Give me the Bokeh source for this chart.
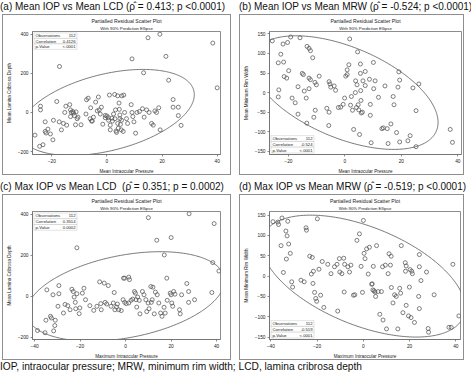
import numpy as np
from bokeh.plotting import figure
from bokeh.layouts import column, row
from bokeh.models import Div, Title, Label, BoxAnnotation, FixedTicker, Range1d, Spacer
from bokeh.embed import file_html
from bokeh.resources import INLINE

FONT = "Liberation Sans"

# ---------------- data ----------------
HEADINGS = ["(a) Mean IOP vs Mean LCD (\u03c1\u0302 = 0.413; p <0.0001)",
            "(b) Mean IOP vs Mean MRW (\u03c1\u0302 = -0.524; p <0.0001)",
            "(c) Max IOP vs Mean LCD&nbsp; (\u03c1\u0302 = 0.351; p = 0.0002)",
            "(d) Max IOP vs Mean MRW (\u03c1\u0302 = -0.519; p <0.0001)"]
CAPTION = "IOP, intraocular pressure; MRW, minimum rim width; LCD, lamina cribrosa depth"
PLOT_TITLE = "Partialled Residual Scatter Plot"
PLOT_SUBTITLE = "With 90% Prediction Ellipse"
X_LABELS = ["Mean Intraocular Pressure", "Mean Intraocular Pressure",
            "Maximum Intraocular Pressure", "Maximum Intraocular Pressure"]
Y_LABELS = ["Mean Lamina Cribrosa Depth", "Mean Minimum Rim Width",
            "Mean Lamina Cribrosa Depth", "Mean Minimum Rim Width"]
STAT_NAMES = ["Observations", "Correlation", "p-Value"]
STATS_A = ["112", "0.4126", "<.0001"]
STATS_B = ["112", "-0.524", "<.0001"]
STATS_C = ["112", "0.3514", "0.0002"]
STATS_D = ["112", "-0.519", "<.0001"]

X_TICKS_A = [-20, 0, 20, 40]
X_TICKS_C = [-40, -20, 0, 20, 40]
Y_TICKS_LCD = [-200, 0, 200, 400]
Y_TICKS_MRW = [-150, -100, -50, 0, 50, 100, 150]

X_RANGE_A = (-27, 41.2)
Y_RANGE_A = (-215, 414)
X_RANGE_B = (-26.7, 41.3)
Y_RANGE_B = (-158, 156)
X_RANGE_C = (-40.9, 41.7)
Y_RANGE_C = (-210, 414)
X_RANGE_D = (-40.6, 42)
Y_RANGE_D = (-156, 159)

# ellipse: (x half-extent, y half-extent, correlation)
ELL_A = (31.7, 220, 0.4126)
ELL_B = (33.0, 145, -0.524)
ELL_C = (43.5, 218, 0.3514)
ELL_D = (44.0, 150, -0.519)

A_X = [14.9, 19.2, 38.4, 9.1, 21.4, -17.2, 13.3, 22.4, 40.0, 24.0,
       24.0, 25.9, 25.9, 26.9, -24.1, -24.1, -18.2, -26.1, -24.4, -23.2,
       -22.4, -22.4, -22.1, -21.4, -20.5, -19.6, -19.4, -17.3, -16.5, -15.8,
       -15.3, -14.9, -14.6, -13.5, -13.2, -13.2, -12.9, -12.4, -12.1, -11.8,
       -11.4, -11.2, -10.8, -10.5, -9.4, -7.4, -6.8, -6.1, -5.6, -5.3,
       -4.9, -4.1, -3.1, -2.8, -2.4, -2.0, -1.5, -0.6, 0.0, 0.5,
       0.9, 1.2, 1.2, 1.8, 2.0, 2.4, 2.8, 3.1, 3.3, 3.5,
       3.9, 3.9, 4.4, 4.5, 4.7, 4.7, 4.9, 5.2, 5.3, 5.4,
       5.9, 6.1, 6.4, 7.1, 7.5, 8.8, 9.1, 9.4, 9.8, 10.4,
       10.9, 11.8, 12.9, 13.5, 14.4, 15.3, 16.2, 16.8, 17.4, 18.0,
       18.8, 19.3, -7.6, -0.6, 0.6, 2.9, 4.1, -3.5, -5.9]
A_Y = [382, 400, 355, 274, 287, 235, 203, 165, 126, 66,
       27, 27, -16, -66, 32, 13, 56, -116, -173, -165,
       -48, -97, -105, -85, -110, -140, -40, -48, -89, -56,
       0, 32, -65, 40, 13, -21, 0, 5, -3, -16,
       -63, 3, -32, -24, -63, 65, 73, -32, -44, -44,
       -24, 53, 79, 13, -8, 27, -60, -15, -18, -27,
       89, -65, -89, -29, -44, -8, 92, 13, -95, -102,
       85, -56, 48, 16, -13, -32, -61, -89, -40, 85,
       -97, 89, 0, -32, -56, 40, 0, -21, -48, -106,
       0, 5, 19, -24, 13, 0, -56, -65, 8, 0,
       24, -89, -8, -27, -40, -32, -81, 8, 24]

B_X = [-25.7, -22.7, -21.9, -20.3, -19.2, -15.9, -23.6, -21.7, -19.9, -21.5,
       -20.6, -23.4, -23.6, -18.7, -17.6, -16.6, -16.6, -15.1, -14.7, -14.4,
       -13.7, -13.5, -13.4, -12.7, -12.2, -12.7, -12.2, -12.7, -11.4, -10.6,
       -10.1, -10.5, -11.0, -9.1, -6.4, -5.6, -5.3, -5.0, -5.6, -5.7,
       -3.8, -3.3, -2.3, -1.5, -0.6, -0.1, 0.3, 0.8, 0.8, 1.4,
       1.7, 2.0, 2.3, 2.7, 3.1, 3.7, 3.8, 4.1, 4.3, 4.5,
       4.7, 4.9, 5.2, 5.5, 5.5, 5.6, 5.7, 5.8, 6.2, 6.4,
       7.2, 7.2, 8.7, 9.0, 9.0, 9.3, 10.1, 10.2, 10.7, 11.9,
       13.1, 13.6, 14.2, 15.0, 15.3, 16.3, 17.1, 17.4, 18.3, 18.8,
       19.1, 19.4, 19.4, 22.3, 23.1, 24.1, 25.2, 25.2, 26.2, 37.3,
       38.1]
B_Y = [132, 98, 124, 128, 142, 140, 76, 78, 56, 41,
       37, 7, -11, -14, -26, 15, -55, 49, 46, 4,
       -14, -78, 118, 113, 107, 37, 33, 10, 89, 26,
       20, -45, -63, 42, -40, 28, 22, 14, -50, -84,
       17, 6, -38, -37, -30, -14, 42, 46, 58, 71,
       137, -32, -10, -45, -94, 0, 30, -38, 20, 104,
       -31, -44, -107, 73, 49, 5, -20, -52, -50, 30,
       54, 18, 34, -58, -30, -128, 77, 10, 30, -12,
       -92, -90, 17, -92, -130, -80, -10, -31, -102, 14,
       53, 32, -126, -123, -110, 12, -46, -138, 22, -94,
       -127]

C_X = [10.0, 27.9, 38.9, 13.7, 20.0, -21.4, 17.0, 38.3, 41.0, 18.1,
       -0.4, -0.9, 1.4, 1.7, 11.1, 12.0, 26.9, 37.9, -38.7, -35.4,
       -35.0, -34.6, -33.0, -32.6, -31.9, -31.6, -31.1, -30.9, -29.7, -29.3,
       -29.3, -27.3, -26.6, -25.4, -24.4, -23.6, -23.0, -22.6, -22.1, -21.9,
       -21.4, -20.4, -20.1, -19.0, -18.3, -17.6, -15.7, -14.0, -12.6, -11.4,
       -10.9, -10.7, -9.4, -9.0, -8.3, -7.6, -6.4, -5.4, -5.0, -4.7,
       -4.0, -3.6, -3.0, -1.9, -1.1, -0.4, 0.3, 1.4, 2.4, 3.1,
       3.9, 4.3, 4.6, 4.9, 5.3, 6.0, 6.3, 7.4, 8.1, 8.9,
       9.3, 9.9, 10.3, 11.3, 11.7, 12.6, 13.1, 13.9, 14.6, 15.4,
       16.0, 16.9, 17.4, 18.3, 19.6, 20.0, 20.3, 20.7, 21.1, 21.7,
       23.7, 24.0, 24.6, 27.7, 27.7, 30.3]
C_Y = [384, 403, 355, 274, 287, 237, 202, 165, 124, 89,
       89, 89, 94, 82, 48, 45, 63, 19, -166, -177,
       -116, 32, -97, -105, 8, -168, -142, -116, -48, 53,
       13, -81, -39, -45, -65, 35, 24, -3, -29, -60,
       13, -84, -56, 16, 40, -16, -45, -68, -48, 71,
       -35, -65, 65, -29, -37, 53, -48, -32, 19, -65,
       -52, -37, -65, -69, -16, -29, -35, -32, -19, -13,
       24, 16, -16, -52, -3, -19, -85, 24, 8, -16,
       -74, -32, -60, -29, -16, -85, 21, 8, -32, -81,
       -97, -53, -81, -19, 16, 8, -32, -48, 24, 11,
       -65, -85, 8, 24, -29, -16]

D_X = [-39.1, -37.0, -36.7, -35.2, -35.6, -34.6, -33.5, -33.0, -32.7, -33.3,
       -32.3, -31.6, -31.0, -30.6, -27.0, -24.8, -24.6, -25.6, -23.2, -22.5,
       -22.1, -21.8, -21.6, -21.1, -20.6, -20.2, -19.9, -19.2, -18.5, -17.8,
       -17.1, -15.4, -14.0, -12.5, -11.4, -11.1, -10.4, -10.2, -9.3, -8.5,
       -8.1, -8.3, -6.7, -6.0, -5.4, -4.3, -3.7, -2.8, -1.7, -1.0,
       -0.4, 0.0, 0.3, 0.7, 1.4, 2.1, 2.6, 3.6, 3.8, 4.1,
       4.3, 4.6, 5.0, 5.3, 5.7, 6.4, 7.1, 7.8, 8.3, 8.5,
       9.5, 10.0, 10.7, 11.1, 11.7, 12.0, 12.1, 12.8, 13.5, 14.2,
       14.9, 15.7, 16.1, 16.4, 17.1, 18.1, 18.5, 18.2, 18.5, 19.5,
       19.9, 20.2, 20.6, 20.9, 21.2, 22.1, 23.9, 24.2, 24.2, 24.2,
       24.9, 27.3, 28.0, 28.2, 30.6, 37.0, 38.0, 38.7, 41.3]
D_Y = [134, 133, 127, 143, 75, 9, 111, 99, 135, 42,
       79, 56, -14, -27, -10, 119, 113, -14, 49, 5,
       46, -18, 12, -40, -55, -62, 141, 17, -47, 36,
       -77, 29, 6, 23, 29, -86, 43, 10, 6, 44,
       29, -39, 23, 10, 27, -47, -46, 88, 104, 24,
       -40, 137, 56, 43, 67, 5, 71, -20, -19, -34,
       24, -36, -39, -50, 75, -38, -94, -38, 23, -108,
       27, -130, 6, 55, 27, 49, -28, -66, -46, -50,
       -130, -30, -42, 75, -90, 33, 25, 12, -72, -98,
       -27, 16, -102, 12, 6, -114, -50, 53, 23, -80,
       -11, 10, -129, -138, -46, -126, -126, 29, -98]

# ---------------- styling ----------------
TXT = "#222222"
AX = "#707070"
FIXED = dict(width_policy="fixed", height_policy="fixed")


def make_panel(xs, ys, xr, yr, xticks, yticks, xlabel, ylabel, ell, stats, inset_top,
               W, H, borders, fig_margin):
    L, R, T, B = borders
    p = figure(width=W, height=H, x_range=Range1d(*xr), y_range=Range1d(*yr),
               output_backend="svg", toolbar_location=None,
               min_border_left=L, min_border_right=R,
               min_border_top=T, min_border_bottom=B, margin=fig_margin,
               styles={"border": "1px solid #8e8e8e"}, **FIXED)
    p.add_layout(Title(text=PLOT_SUBTITLE, align="center", text_font_size="4.3px",
                       text_font=FONT, text_font_style="normal", text_color=TXT,
                       standoff=1), "above")
    p.add_layout(Title(text=PLOT_TITLE, align="center", text_font_size="5.1px",
                       text_font=FONT, text_font_style="normal", text_color=TXT,
                       standoff=0), "above")
    p.grid.visible = False
    p.outline_line_color = AX
    p.outline_line_width = 0.8
    p.xaxis.ticker = FixedTicker(ticks=xticks, minor_ticks=[])
    p.yaxis.ticker = FixedTicker(ticks=yticks, minor_ticks=[])
    p.xaxis.axis_label = xlabel
    p.yaxis.axis_label = ylabel
    for ax in (p.xaxis[0], p.yaxis[0]):
        ax.major_tick_out = 2
        ax.major_tick_in = 0
        ax.minor_tick_out = 0
        ax.minor_tick_in = 0
        ax.axis_line_color = AX
        ax.axis_line_width = 0.8
        ax.major_tick_line_color = AX
        ax.major_tick_line_width = 0.8
        ax.major_label_text_font = FONT
        ax.major_label_text_font_size = "4.8px"
        ax.major_label_text_color = TXT
        ax.axis_label_text_font = FONT
        ax.axis_label_text_font_size = "4.6px"
        ax.axis_label_text_font_style = "normal"
        ax.axis_label_text_color = TXT
    p.xaxis.major_label_standoff = 2
    p.xaxis.axis_label_standoff = 3
    p.yaxis.major_label_standoff = 2
    p.yaxis.axis_label_standoff = 3

    sx, sy, r = ell
    t = np.linspace(0, 2 * np.pi, 361)
    ex = sx * np.cos(t)
    ey = sy * (r * np.cos(t) + np.sqrt(1 - r * r) * np.sin(t))
    p.line(ex, ey, line_color="#555555", line_width=0.8)

    p.scatter(xs, ys, marker="circle", size=4, fill_color="white", fill_alpha=0.0,
              line_color="#555555", line_width=0.75)

    # statistics inset table (anchored to a corner of the frame)
    tw, rh, pad = 43, 5.8, 1.5
    fh = H - T - B
    dpp = (yr[1] - yr[0]) / fh  # data units per pixel (approx.)
    for i, (name, val) in enumerate(zip(STAT_NAMES, stats)):
        if inset_top:
            rt = yr[1] - (pad + i * rh) * dpp
            rb = yr[1] - (pad + (i + 1) * rh) * dpp
            yu = "data"
        else:
            rt = pad + (3 - i) * rh
            rb = pad + (2 - i) * rh
            yu = "screen"
        p.add_layout(BoxAnnotation(left=pad, right=pad + tw, top=rt, bottom=rb,
                                   left_units="screen", right_units="screen",
                                   top_units=yu, bottom_units=yu,
                                   fill_color="white", fill_alpha=1.0,
                                   line_color="#6a6a6a", line_width=0.6))
        yc = (rt + rb) / 2
        p.add_layout(Label(x=pad + 1.5, y=yc, x_units="screen", y_units=yu,
                           text=name, text_font=FONT, text_font_size="4.2px",
                           text_color=TXT, text_baseline="middle", text_align="left"))
        p.add_layout(Label(x=pad + tw - 1.5, y=yc, x_units="screen", y_units=yu,
                           text=val, text_font=FONT, text_font_size="4.2px",
                           text_color=TXT, text_baseline="middle", text_align="right"))
    return p


def heading(text, w, h):
    return Div(text=text, width=w, height=h, margin=0, **FIXED,
               styles={"font-family": "'Liberation Sans', Arial, sans-serif",
                       "font-size": "10px", "line-height": "%dpx" % h, "color": "#111111",
                       "white-space": "nowrap", "overflow": "hidden"})


WL, WR = 229, 225          # canvas widths, left / right column
H1, H2 = 161, 166          # canvas heights, top / bottom row

pa = make_panel(A_X, A_Y, X_RANGE_A, Y_RANGE_A, X_TICKS_A, Y_TICKS_LCD,
                X_LABELS[0], Y_LABELS[0], ELL_A, STATS_A, True,
                WL, H1, (24, 12, 14, 17), (0, 0, 0, 2))
pb = make_panel(B_X, B_Y, X_RANGE_B, Y_RANGE_B, X_TICKS_A, Y_TICKS_MRW,
                X_LABELS[1], Y_LABELS[1], ELL_B, STATS_B, False,
                WR, H1, (28, 4, 14, 17), 0)
pc = make_panel(C_X, C_Y, X_RANGE_C, Y_RANGE_C, X_TICKS_C, Y_TICKS_LCD,
                X_LABELS[2], Y_LABELS[2], ELL_C, STATS_C, True,
                WL, H2, (24, 12, 16, 21), (0, 0, 0, 2))
pd = make_panel(D_X, D_Y, X_RANGE_D, Y_RANGE_D, X_TICKS_C, Y_TICKS_MRW,
                X_LABELS[3], Y_LABELS[3], ELL_D, STATS_D, False,
                WR, H2, (25, 5, 16, 21), 0)

row1 = row(column(heading(HEADINGS[0], 233, 14), pa, spacing=0, margin=0),
           column(heading(HEADINGS[1], 232, 14), pb, spacing=0, margin=0),
           spacing=6, margin=0)
row2 = row(column(heading(HEADINGS[2], 233, 15), pc, spacing=0, margin=0),
           column(heading(HEADINGS[3], 232, 15), pd, spacing=0, margin=0),
           spacing=6, margin=0)
cap = Div(text=CAPTION, width=466, height=14, margin=0, **FIXED,
          styles={"font-family": "'Liberation Sans', Arial, sans-serif",
                  "font-size": "10.2px", "line-height": "14px", "color": "#111111",
                  "white-space": "nowrap"})
layout = column(row1, Spacer(height=4, margin=0, **FIXED), row2, cap, spacing=0, margin=0)

open("out.html", "w").write(file_html(layout, INLINE))
